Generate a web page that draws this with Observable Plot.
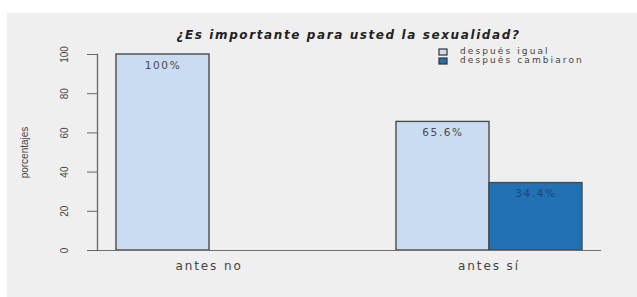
<!DOCTYPE html>
<html><head><meta charset="utf-8">
<script src="https://cdn.jsdelivr.net/npm/d3@7"></script>
<script src="https://cdn.jsdelivr.net/npm/@observablehq/plot@0.6"></script>
<style>
html,body{margin:0;padding:0;background:#fff;}
#wrap{position:relative;width:637px;height:297px;overflow:hidden;}
#panel{position:absolute;left:7px;top:13px;right:0;bottom:0;background:#efefef;}
#chart{position:absolute;left:0;top:0;}
#title{position:absolute;left:97px;width:503px;top:28px;text-align:center;font:italic bold 12px "DejaVu Sans";letter-spacing:1.6px;color:#222;line-height:14px;}
#legend{position:absolute;left:439px;top:47px;}
#legend .lg-swatches{margin:0 !important;}
#legend .lg-swatch{font:9px "DejaVu Sans";letter-spacing:2.1px;line-height:9px;height:9px;color:#444;padding-bottom:0 !important;display:flex;align-items:center;}
#legend .lg-swatch svg{margin-right:13px !important;}
#legend .lg-swatch svg rect{stroke:#333;stroke-width:1.2;}
g[aria-label="fx-axis tick label"] text{font-family:"DejaVu Sans";letter-spacing:1.9px;}
g[aria-label="text"] text{font-family:"DejaVu Sans";letter-spacing:1.6px;}
</style>
</head><body>
<div id="wrap"><div id="panel"></div><div id="chart"></div>
<div id="title">¿Es importante para usted la sexualidad?</div>
<div id="legend"></div></div>
<script>
const grupos = ["antes no", "antes sí"];
const series = ["después igual", "después cambiaron"];
const despuesIgual = [100, 65.6];
const despuesCambiaron = [0, 34.4];
const colores = ["#c9dcf1", "#2171b5"];
const yTicks = [0, 20, 40, 60, 80, 100];

const rows = grupos.flatMap((g, i) => [
  {grupo: g, serie: series[0], valor: despuesIgual[i]},
  {grupo: g, serie: series[1], valor: despuesCambiaron[i]}
]);
const visibles = rows.filter(d => d.valor > 0);

const chart = Plot.plot({
  width: 637, height: 297,
  marginTop: 54, marginBottom: 47, marginLeft: 97, marginRight: 37,
  style: {background: "transparent", fontFamily: "Liberation Sans, Arial, sans-serif", color: "#444"},
  fx: {domain: grupos, paddingInner: 0.2043, paddingOuter: 0},
  x: {domain: series, paddingInner: 0, paddingOuter: 0.198, axis: null},
  y: {domain: [0, 100]},
  color: {domain: series, range: colores},
  marks: [
    Plot.barY(visibles, {fx: "grupo", x: "serie", y: "valor", fill: "serie", stroke: "#4a4a4a", strokeWidth: 1.4}),
    Plot.text(visibles.filter(d => d.serie === series[0]), {fx: "grupo", x: "serie", y: "valor", text: d => d.valor + "%", dy: 11, fill: "#4a4a4a", fontSize: 10.5}),
    Plot.text(visibles.filter(d => d.serie === series[1]), {fx: "grupo", x: "serie", y: "valor", text: d => d.valor + "%", dy: 11, fill: "#1f4673", fontSize: 10.5}),
    Plot.frame({anchor: "bottom", facet: "super", stroke: "#707070", strokeWidth: 1.2}),
    Plot.frame({anchor: "left", facet: "super", stroke: "#666", strokeWidth: 1.3}),
    Plot.axisY({ticks: yTicks, tickSize: 10, tickRotate: -90, tickPadding: 20, fontSize: 10, label: "porcentajes", labelAnchor: "center", labelArrow: "none", labelOffset: 77, stroke: "#666"}),
    Plot.axisFx({anchor: "bottom", tickSize: 0, tickPadding: 11, label: null, fontSize: 12, fill: "#444"})
  ]
});
document.getElementById("chart").appendChild(chart);

const leyenda = Plot.legend({color: {type: "ordinal", domain: series, range: colores}, legend: "swatches", columns: 1, swatchWidth: 8, swatchHeight: 6, className: "lg"});
document.getElementById("legend").appendChild(leyenda);
</script>
</body></html>
